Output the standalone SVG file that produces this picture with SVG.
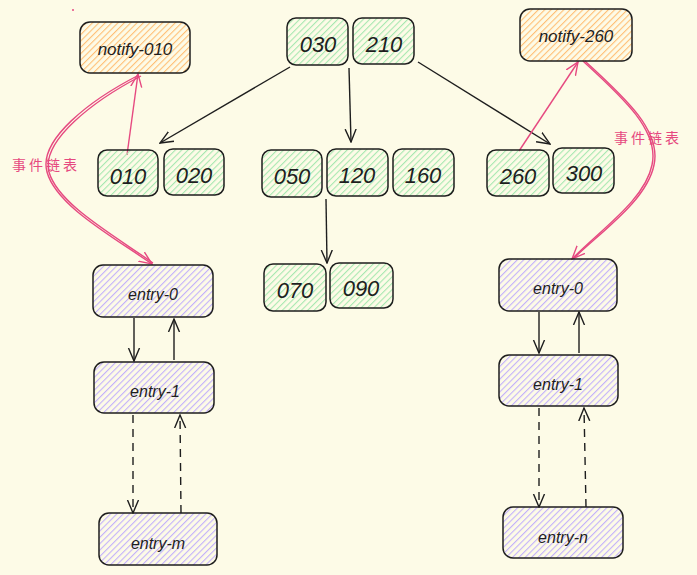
<svg xmlns="http://www.w3.org/2000/svg" width="697" height="575" viewBox="0 0 697 575">
<defs>
<pattern id="hg" patternUnits="userSpaceOnUse" width="4.5" height="4.5" patternTransform="rotate(45)"><line x1="0" y1="0" x2="0" y2="4.5" stroke="#a6e8b0" stroke-width="2.2"/></pattern>
<pattern id="ho" patternUnits="userSpaceOnUse" width="4.5" height="4.5" patternTransform="rotate(45)"><line x1="0" y1="0" x2="0" y2="4.5" stroke="#ffbf75" stroke-width="2.2"/></pattern>
<pattern id="hp" patternUnits="userSpaceOnUse" width="4.5" height="4.5" patternTransform="rotate(45)"><line x1="0" y1="0" x2="0" y2="4.5" stroke="#c2b0fb" stroke-width="2.2"/></pattern>
<marker id="arr" markerUnits="userSpaceOnUse" markerWidth="14" markerHeight="14" viewBox="0 0 14 14" refX="13" refY="7" orient="auto"><path d="M0,1.5 L13,7 L0,12.5" fill="none" stroke="#1e1e1e" stroke-width="1.4"/></marker>
<marker id="parr" markerUnits="userSpaceOnUse" markerWidth="14" markerHeight="14" viewBox="0 0 14 14" refX="13" refY="7" orient="auto"><path d="M0,1.5 L13,7 L0,12.5" fill="none" stroke="#e64980" stroke-width="1.4"/></marker>
</defs>
<style>
.b{stroke:#1e1e1e;stroke-width:1.5}
.g{fill:url(#hg)} .o{fill:url(#ho)} .p{fill:url(#hp)}
.t{font-family:"Liberation Sans",sans-serif;font-style:italic;fill:#1e1e1e;text-anchor:middle;dominant-baseline:central}
.n{font-size:22px} .s{font-size:17px} .e{font-size:16px}
.c{fill:none;stroke:#1e1e1e;stroke-width:1.4}
.d{stroke-dasharray:8 6}
.pk{fill:none;stroke:#e64980;stroke-width:1.4}
.lb{font-family:"Noto Sans CJK SC",sans-serif;font-size:14px;fill:#e64980;letter-spacing:3px}
</style>
<rect width="697" height="575" fill="#fdfbe7"/>
<circle cx="73" cy="10" r="1" fill="#e64980"/>
<g id="connectors">
<line class="c" x1="290" y1="67" x2="160" y2="143" marker-end="url(#arr)"/>
<line class="c" x1="349" y1="68" x2="351" y2="142" marker-end="url(#arr)"/>
<line class="c" x1="418" y1="62" x2="550" y2="144" marker-end="url(#arr)"/>
<line class="c" x1="326" y1="199" x2="327" y2="263" marker-end="url(#arr)"/>
<line class="pk" x1="127" y1="155" x2="138" y2="74" marker-end="url(#parr)"/>
<path class="pk" d="M139,75 C90,100 38,140 47,172 C56,205 110,235 152,264" marker-end="url(#parr)"/>
<path class="pk" d="M141,76 C93,101 41,141 49,172 C58,204 112,234 153,263"/>
<line class="pk" x1="519" y1="151" x2="578" y2="62" marker-end="url(#parr)"/>
<path class="pk" d="M583,61 C620,95 660,130 652,165 C645,200 600,230 572,259" marker-end="url(#parr)"/>
<path class="pk" d="M585,61 C622,95 662,130 654,165 C647,200 602,231 573,259"/>
<line class="c" x1="134" y1="318" x2="134" y2="361" marker-end="url(#arr)"/>
<line class="c" x1="174" y1="360" x2="174" y2="319" marker-end="url(#arr)"/>
<line class="c d" x1="133" y1="415" x2="133" y2="513" marker-end="url(#arr)"/>
<line class="c d" x1="181" y1="513" x2="180" y2="415" marker-end="url(#arr)"/>
<line class="c" x1="539" y1="312" x2="539" y2="353" marker-end="url(#arr)"/>
<line class="c" x1="579" y1="353" x2="579" y2="312" marker-end="url(#arr)"/>
<line class="c d" x1="539" y1="408" x2="539" y2="507" marker-end="url(#arr)"/>
<line class="c d" x1="586" y1="507" x2="584" y2="408" marker-end="url(#arr)"/>
</g>
<text class="lb" x="12" y="170">事件链表</text>
<text class="lb" x="614" y="143">事件链表</text>
<g id="notify-010"><rect class="b o" x="80" y="22" width="110" height="51" rx="10"/><text class="t s" x="135" y="49">notify-010</text></g>
<g id="notify-260"><rect class="b o" x="520" y="9" width="112" height="52" rx="10"/><text class="t s" x="576" y="36">notify-260</text></g>
<g id="n030"><rect class="b g" x="287" y="18" width="61" height="47" rx="9"/><text class="t n" x="318" y="44">030</text></g>
<g id="n210"><rect class="b g" x="353" y="18" width="61" height="46" rx="9"/><text class="t n" x="384" y="44">210</text></g>
<g id="n010"><rect class="b g" x="98" y="150" width="60" height="46" rx="9"/><text class="t n" x="128" y="176">010</text></g>
<g id="n020"><rect class="b g" x="164" y="149" width="60" height="46" rx="9"/><text class="t n" x="194" y="175">020</text></g>
<g id="n050"><rect class="b g" x="262" y="150" width="60" height="47" rx="9"/><text class="t n" x="292" y="176">050</text></g>
<g id="n120"><rect class="b g" x="327" y="149" width="61" height="47" rx="9"/><text class="t n" x="357" y="175">120</text></g>
<g id="n160"><rect class="b g" x="393" y="149" width="61" height="47" rx="9"/><text class="t n" x="423" y="175">160</text></g>
<g id="n070"><rect class="b g" x="264" y="264" width="62" height="47" rx="9"/><text class="t n" x="295" y="290">070</text></g>
<g id="n090"><rect class="b g" x="330" y="263" width="63" height="45" rx="9"/><text class="t n" x="361" y="288">090</text></g>
<g id="n260"><rect class="b g" x="487" y="150" width="62" height="46" rx="9"/><text class="t n" x="518" y="176">260</text></g>
<g id="n300"><rect class="b g" x="553" y="148" width="61" height="45" rx="9"/><text class="t n" x="584" y="173">300</text></g>
<g id="l-entry-0"><rect class="b p" x="93" y="265" width="120" height="52" rx="10"/><text class="t e" x="153" y="294">entry-0</text></g>
<g id="l-entry-1"><rect class="b p" x="94" y="362" width="120" height="51" rx="10"/><text class="t e" x="155" y="391">entry-1</text></g>
<g id="l-entry-m"><rect class="b p" x="99" y="513" width="118" height="52" rx="10"/><text class="t e" x="158" y="543">entry-m</text></g>
<g id="r-entry-0"><rect class="b p" x="499" y="259" width="118" height="52" rx="10"/><text class="t e" x="558" y="288">entry-0</text></g>
<g id="r-entry-1"><rect class="b p" x="499" y="355" width="119" height="51" rx="10"/><text class="t e" x="558" y="384">entry-1</text></g>
<g id="r-entry-n"><rect class="b p" x="503" y="507" width="120" height="51" rx="10"/><text class="t e" x="563" y="537">entry-n</text></g>
</svg>
